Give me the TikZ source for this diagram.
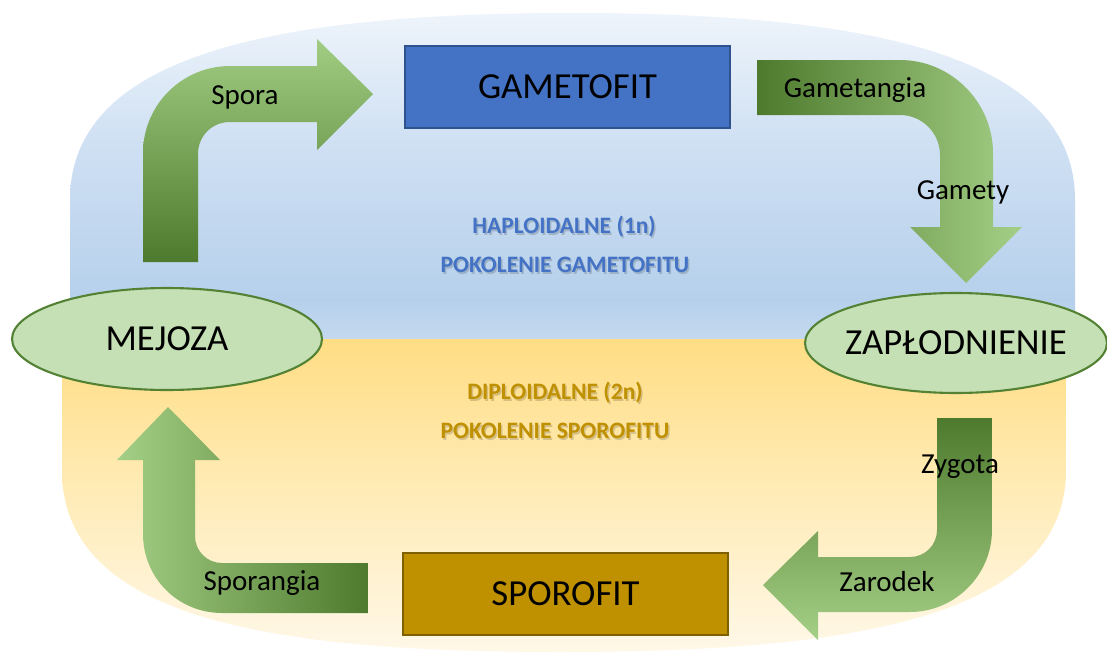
\documentclass[tikz,border=0pt]{standalone}
\usepackage{fontspec}
\setmainfont{Carlito}
\usetikzlibrary{shapes.geometric}
\definecolor{bb0}{HTML}{EEF4FB}
\definecolor{bb1}{HTML}{CFE0F3}
\definecolor{bb2}{HTML}{B6D0EB}
\definecolor{bb3}{HTML}{C4D9EF}
\definecolor{yy0}{HTML}{FFDD84}
\definecolor{yy1}{HTML}{FFE9AE}
\definecolor{yy2}{HTML}{FFF8E8}
\definecolor{gdark}{HTML}{4E7A2E}
\definecolor{gmid}{HTML}{70AD47}
\definecolor{glight}{HTML}{A4CF86}
\definecolor{gameto}{HTML}{4472C4}
\definecolor{gametoline}{HTML}{2F528F}
\definecolor{sporo}{HTML}{BF9000}
\definecolor{sporoline}{HTML}{7F6000}
\definecolor{ovalfill}{HTML}{C5E0B4}
\definecolor{ovalline}{HTML}{548235}
\definecolor{haplo}{HTML}{4472C4}
\definecolor{diplo}{HTML}{BF9000}
\pgfdeclareverticalshading{bluebg}{100bp}{color(0bp)=(bb3); color(25bp)=(bb3); color(31bp)=(bb2); color(55bp)=(bb1); color(75bp)=(bb0); color(100bp)=(bb0)}
\pgfdeclareverticalshading{yellowbg}{100bp}{color(0bp)=(yy2); color(25bp)=(yy2); color(55bp)=(yy1); color(75bp)=(yy0); color(100bp)=(yy0)}
\begin{document}
\begin{tikzpicture}[x=0.02cm,y=-0.02cm,
  box/.style={draw, line width=1.1pt, minimum width=6.5cm, minimum height=1.64cm, inner sep=0pt, text=black, font=\fontsize{20.9}{24}\selectfont},
  oval/.style={ellipse, draw=ovalline, fill=ovalfill, line width=1.2pt, inner sep=0pt, text=black, font=\fontsize{20.9}{24}\selectfont},
  lbl/.style={font=\fontsize{16.5}{19}\selectfont, text=black, inner sep=0pt},
  gen/.style={font=\bfseries\fontsize{13.4}{16}\selectfont, inner sep=0pt},
  shadowtxt/.style={gen, text=black, opacity=0.16}]
\useasboundingbox[fill=white] (0,0) rectangle (1107,656);
% background halves
\path[shading=bluebg] (70,339) -- (70,200) .. controls (70,60) and (260,13) .. (572,13) .. controls (884,13) and (1075,60) .. (1075,200) -- (1075,339) -- cycle;
\path[shading=yellowbg] (62,339) -- (62,470) .. controls (62,615) and (260,652) .. (560,652) .. controls (860,652) and (1066,615) .. (1066,470) -- (1066,339) -- cycle;
% generation labels
\node[shadowtxt] at (565.5,229) {HAPLOIDALNE (1n)};
\node[gen, text=haplo] (hap1) at (564,227) {HAPLOIDALNE (1n)};
\node[shadowtxt] at (566.5,267) {POKOLENIE GAMETOFITU};
\node[gen, text=haplo] (hap2) at (565,265) {POKOLENIE GAMETOFITU};
\node[shadowtxt] at (556.5,395) {DIPLOIDALNE (2n)};
\node[gen, text=diplo] (dip1) at (555,393) {DIPLOIDALNE (2n)};
\node[shadowtxt] at (556.5,433) {POKOLENIE SPOROFITU};
\node[gen, text=diplo] (dip2) at (555,431) {POKOLENIE SPOROFITU};
% bent block arrows
\path[top color=glight!95!gmid, bottom color=gdark]
  (143,262) -- (143,153) .. controls (143,105) and (182,66) .. (230,66)
  -- (317,66) -- (317,39) -- (373,94) -- (317,150) -- (317,122) -- (230,122)
  .. controls (212,122) and (198,136) .. (198,154) -- (198,262) -- cycle;
\path[left color=gdark, right color=glight]
  (757,60) -- (900,60) .. controls (951,60) and (993,102) .. (993,153)
  -- (993,227) -- (1022,227) -- (966,283) -- (910,227) -- (940,227) -- (940,155)
  .. controls (940,133) and (922,115) .. (900,115) -- (757,115) -- cycle;
\path[top color=gdark, bottom color=glight]
  (937,418) -- (937,530) .. controls (937,545) and (925,557) .. (910,557)
  -- (818,557) -- (818,531) -- (763,585) -- (818,640) -- (818,612) -- (910,612)
  .. controls (955,612) and (992,575) .. (992,530) -- (992,418) -- cycle;
\path[left color=glight, right color=gdark]
  (368,563) -- (222,563) .. controls (207,563) and (195,551) .. (195,536)
  -- (195,460) -- (220,460) -- (168,407) -- (117,460) -- (143,460) -- (143,534)
  .. controls (143,578) and (178,613) .. (222,613) -- (368,613) -- cycle;
% arrow labels
\node[lbl] (spora) at (245,97) {Spora};
\node[lbl] (gametangia) at (855,90) {Gametangia};
\node[lbl] (gamety) at (963,192) {Gamety};
\node[lbl] (zygota) at (960,467) {Zygota};
\node[lbl] (zarodek) at (887,582) {Zarodek};
\node[lbl] (sporangia) at (262,583) {Sporangia};
% main nodes
\node[box, fill=gameto, draw=gametoline] (gametofit) at (567.5,87) {GAMETOFIT};
\node[box, fill=sporo, draw=sporoline] (sporofit) at (565.5,594) {SPOROFIT};
\node[oval, minimum width=6.2cm, minimum height=2.04cm] (mejoza) at (167,339) {\makebox[0pt]{MEJOZA}};
\node[oval, minimum width=6.04cm, minimum height=2.0cm] (zaplod) at (956,343) {\makebox[0pt]{ZAPŁODNIENIE}};
\end{tikzpicture}
\end{document}
